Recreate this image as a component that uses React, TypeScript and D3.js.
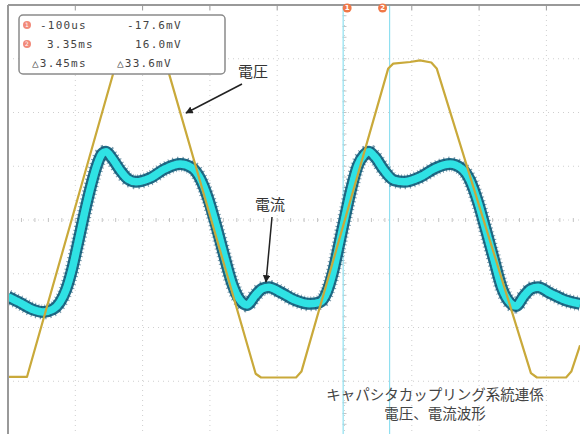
import React, { useEffect, useRef } from "react";
import * as d3 from "d3";

// time in ms, values in screen divisions
const voltageT = [-25.0, -23.59, -17.1, -16.75, -16.3, -15.19, -14.45, -13.5, -13.15, -6.6, -6.2, -3.6, -3.2, 3.25, 3.62, 4.87, 5.61, 6.45, 6.85, 13.85, 14.3, 16.46, 16.85, 17.5];
const voltageV = [-2.92, -2.92, 2.8, 2.91, 2.95, 2.94, 2.97, 2.93, 2.82, -2.86, -2.93, -2.93, -2.82, 2.82, 2.91, 2.94, 2.97, 2.93, 2.82, -2.85, -2.93, -2.93, -2.82, -2.33];

const currentT = [-25.0, -24.11, -23.22, -22.4, -21.66, -21.14, -20.69, -20.25, -19.8, -19.35, -18.91, -18.39, -18.02, -17.72, -17.27, -16.68, -16.08, -15.49, -14.45, -13.34, -12.22, -11.33, -10.74, -10.14, -9.55, -8.95, -8.36, -7.76, -7.24, -6.65, -6.13, -5.61, -4.79, -3.68, -2.56, -1.82, -1.3, -0.85, -0.41, 0.04, 0.48, 1.0, 1.45, 1.82, 2.27, 2.93, 3.68, 4.42, 5.61, 6.8, 7.84, 8.73, 9.32, 9.92, 10.51, 11.11, 11.7, 12.3, 12.74, 13.34, 13.86, 14.38, 15.27, 16.38, 17.5];
const currentI = [-1.43, -1.54, -1.66, -1.71, -1.66, -1.53, -1.3, -0.93, -0.43, 0.09, 0.56, 1.02, 1.23, 1.27, 1.15, 0.93, 0.76, 0.71, 0.78, 0.95, 1.04, 0.97, 0.78, 0.41, -0.09, -0.65, -1.17, -1.49, -1.58, -1.41, -1.28, -1.25, -1.34, -1.49, -1.56, -1.53, -1.34, -0.97, -0.47, 0.06, 0.56, 1.02, 1.21, 1.27, 1.17, 0.93, 0.74, 0.71, 0.8, 0.97, 1.04, 0.95, 0.74, 0.33, -0.19, -0.74, -1.27, -1.54, -1.6, -1.41, -1.28, -1.25, -1.36, -1.49, -1.56];

const cursorTimes = [-0.1, 3.35];
const cursorIds = ["1", "2"];
const readoutTime = ["-100us", "3.35ms", "△3.45ms"];
const readoutVolt = ["-17.6mV", "16.0mV", "△33.6mV"];
const captionLines = ["キャパシタカップリング系統連係", "電圧、電流波形"];

const App = () => {
  const ref = useRef<SVGSVGElement>(null);

  useEffect(() => {
    const svg = d3.select(ref.current);
    svg.selectAll("*").remove();

    const W = 580, H = 434;
    const x = d3.scaleLinear().domain([-25, 25]).range([8, 681]);
    const y = d3.scaleLinear().domain([-4, 4]).range([435, 5]);

    svg.append("rect").attr("width", W).attr("height", H).attr("fill", "#fff");

    const defs = svg.append("defs");
    defs.append("clipPath").attr("id", "plot").append("rect").attr("x", 8).attr("y", 5).attr("width", W - 8).attr("height", H - 5);
    defs.append("marker").attr("id", "head").attr("viewBox", "0 0 10 10").attr("refX", 9).attr("refY", 5)
      .attr("markerWidth", 5).attr("markerHeight", 5).attr("orient", "auto")
      .append("path").attr("d", "M0,0L10,5L0,10Z").attr("fill", "#222");

    const g = svg.append("g").attr("clip-path", "url(#plot)");

    // dotted grid
    g.selectAll("line.vg").data(d3.range(-20, 26, 5)).join("line")
      .attr("x1", (d) => x(d)).attr("x2", (d) => x(d)).attr("y1", 5).attr("y2", H)
      .attr("stroke", "#cfcfcf").attr("stroke-dasharray", "1,4");
    g.selectAll("line.hg").data(d3.range(-3, 5, 1)).join("line")
      .attr("y1", (d) => y(d)).attr("y2", (d) => y(d)).attr("x1", 8).attr("x2", W)
      .attr("stroke", "#cfcfcf").attr("stroke-dasharray", "1,4");

    // minor ticks on center axes
    g.selectAll("line.mx").data(d3.range(-25, 25.1, 1)).join("line")
      .attr("x1", (d) => x(d)).attr("x2", (d) => x(d)).attr("y1", y(0) - 2).attr("y2", y(0) + 2)
      .attr("stroke", "#c4c4c4");
    g.selectAll("line.my").data(d3.range(-4, 4.01, 0.2)).join("line")
      .attr("x1", x(0) - 2).attr("x2", x(0) + 2).attr("y1", (d) => y(d)).attr("y2", (d) => y(d))
      .attr("stroke", "#c4c4c4");

    // frame: top and left
    svg.append("line").attr("x1", 8).attr("x2", W).attr("y1", 5).attr("y2", 5).attr("stroke", "#999").attr("stroke-width", 2);
    svg.append("line").attr("x1", 8).attr("x2", 8).attr("y1", 5).attr("y2", H).attr("stroke", "#999").attr("stroke-width", 2);
    svg.selectAll("line.tt").data(d3.range(-20, 26, 5)).join("line")
      .attr("x1", (d) => x(d)).attr("x2", (d) => x(d)).attr("y1", 5).attr("y2", 10).attr("stroke", "#999");

    // cursors
    g.selectAll("line.cur").data(cursorTimes).join("line")
      .attr("x1", (d) => x(d)).attr("x2", (d) => x(d)).attr("y1", 5).attr("y2", H)
      .attr("stroke", "#8fdff0").attr("stroke-width", 1.2);

    const smooth = d3.line<[number, number]>().curve(d3.curveMonotoneX);
    const straight = d3.line<[number, number]>();

    // current trace
    const cPts = currentT.map((t, i) => [x(t), y(currentI[i])] as [number, number]);
    g.append("path").attr("d", smooth(cPts)).attr("fill", "none").attr("stroke", "#1f6b86").attr("stroke-width", 12);
    g.append("path").attr("d", smooth(cPts)).attr("fill", "none").attr("stroke", "#164e6e").attr("stroke-width", 15).attr("stroke-dasharray", "1,3").attr("opacity", 0.55);
    g.append("path").attr("d", smooth(cPts)).attr("fill", "none").attr("stroke", "#2fe2e4").attr("stroke-width", 7.5);

    // voltage trace
    const vPts = voltageT.map((t, i) => [x(t), y(voltageV[i])] as [number, number]);
    g.append("path").attr("d", straight(vPts)).attr("fill", "none").attr("stroke", "#c9a93a").attr("stroke-width", 2.2).attr("stroke-linejoin", "round");

    // cursor markers
    const mk = svg.selectAll("g.mk").data(cursorTimes).join("g")
      .attr("transform", (d, i) => `translate(${x(d) + (i === 0 ? 4 : -7)},8)`);
    mk.append("circle").attr("r", 4.5).attr("fill", "#f07848");
    mk.append("text").text((d, i) => cursorIds[i]).attr("text-anchor", "middle").attr("dy", "0.35em")
      .attr("font-size", 7).attr("font-family", "DejaVu Sans").attr("fill", "#fff").attr("font-weight", "bold");

    // readout box
    svg.append("rect").attr("x", 19).attr("y", 15).attr("width", 206).attr("height", 59).attr("rx", 4)
      .attr("fill", "#fff").attr("stroke", "#8a8a8a").attr("stroke-width", 1.5);
    const rowY = [25, 44, 63];
    [0, 1].forEach((i) => {
      svg.append("circle").attr("cx", 27).attr("cy", rowY[i]).attr("r", 4).attr("fill", "#f28a7a");
      svg.append("text").text(cursorIds[i]).attr("x", 27).attr("y", rowY[i]).attr("dy", "0.35em").attr("text-anchor", "middle")
        .attr("font-size", 6).attr("font-family", "DejaVu Sans").attr("fill", "#fff");
    });
    const tx = [40, 47, 32];
    const vx = [127, 135, 117];
    readoutTime.forEach((s, i) => {
      svg.append("text").text(s).attr("x", tx[i]).attr("y", rowY[i]).attr("dy", "0.35em")
        .attr("font-family", "DejaVu Sans Mono").attr("font-size", 11).attr("letter-spacing", 1.2).attr("fill", "#444");
      svg.append("text").text(readoutVolt[i]).attr("x", vx[i]).attr("y", rowY[i]).attr("dy", "0.35em")
        .attr("font-family", "DejaVu Sans Mono").attr("font-size", 11).attr("letter-spacing", 1.2).attr("fill", "#444");
    });

    // annotations
    const jp = "'Noto Sans CJK JP', sans-serif";
    svg.append("text").text("電圧").attr("x", 238).attr("y", 72).attr("dy", "0.35em").attr("font-family", jp).attr("font-size", 15).attr("fill", "#333");
    svg.append("line").attr("x1", 242).attr("y1", 84).attr("x2", 186).attr("y2", 113).attr("stroke", "#222").attr("stroke-width", 1.5).attr("marker-end", "url(#head)");
    svg.append("text").text("電流").attr("x", 255).attr("y", 205).attr("dy", "0.35em").attr("font-family", jp).attr("font-size", 15).attr("fill", "#333");
    svg.append("line").attr("x1", 272).attr("y1", 217).attr("x2", 266).attr("y2", 282).attr("stroke", "#222").attr("stroke-width", 1.5).attr("marker-end", "url(#head)");

    captionLines.forEach((s, i) => {
      svg.append("text").text(s).attr("x", 435).attr("y", 395 + i * 19).attr("dy", "0.35em").attr("text-anchor", "middle")
        .attr("font-family", jp).attr("font-size", 14.5).attr("fill", "#444");
    });
  }, []);

  return (
    <svg ref={ref} width={580} height={434} style={{ position: "fixed", left: 0, top: 0, display: "block" }}></svg>
  );
};

export default App;
